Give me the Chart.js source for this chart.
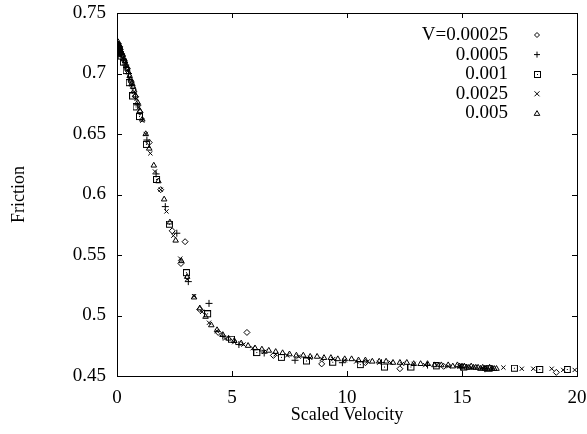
<!DOCTYPE html>
<html><head><meta charset="utf-8">
<script src="https://cdn.jsdelivr.net/npm/chart.js@4/dist/chart.umd.min.js"></script>
<style>html,body{margin:0;padding:0;background:#fff}canvas{display:block}</style>
</head><body>
<canvas id="c" width="587" height="434"></canvas>
<script>
// ---- data ----
const seriesLabels = ["V=0.00025", "0.0005", "0.001", "0.0025", "0.005"];
const xTickLabels = ["0", "5", "10", "15", "20"];
const yTickLabels = ["0.45", "0.5", "0.55", "0.6", "0.65", "0.7", "0.75"];
const xTitle = "Scaled Velocity";
const yTitle = "Friction";

const dX = [0,0.02,0.04,0.06,0.09,0.12,0.15,0.22,0.3,0.45,0.62,0.8,1.0,1.4,1.9,2.4,2.78,2.96,3.6,4.4,5.65,6.8,8.9,10.8,12.3,14.2,16.0,19.1];
const dY = [0.721,0.725,0.723,0.719,0.720,0.722,0.718,0.715,0.711,0.704,0.693,0.681,0.668,0.643,0.604,0.570,0.543,0.561,0.505,0.486,0.486,0.467,0.460,0.461,0.456,0.458,0.456,0.453];

const pX = [0,0.01,0.03,0.05,0.08,0.1,0.13,0.2,0.28,0.38,0.5,0.65,0.9,1.3,1.7,2.1,2.6,3.1,4.0,4.6,5.3,6.4,7.74,9.8,11.5,13.5,15.0,16.0];
const pY = [0.722,0.724,0.720,0.723,0.721,0.719,0.718,0.716,0.712,0.707,0.700,0.690,0.674,0.645,0.617,0.590,0.568,0.528,0.510,0.483,0.476,0.469,0.463,0.461,0.461,0.459,0.457,0.456];

const sX = [0,0.02,0.05,0.08,0.12,0.2,0.3,0.42,0.55,0.7,0.85,1.0,1.3,1.74,2.3,3.04,3.96,5.0,6.1,7.17,8.26,9.4,10.6,11.65,12.8,13.9,15.1,16.2,17.3,18.4,19.6];
const sY = [0.718,0.722,0.720,0.716,0.717,0.714,0.709,0.702,0.692,0.681,0.672,0.664,0.641,0.612,0.575,0.535,0.501,0.480,0.469,0.465,0.462,0.461,0.459,0.457,0.457,0.458,0.457,0.456,0.456,0.455,0.455];

const xX = [0,0.01,0.03,0.05,0.07,0.1,0.12,0.15,0.2,0.27,0.35,0.45,0.55,0.65,0.75,0.85,0.95,1.1,1.25,1.45,1.65,1.9,2.15,2.45,2.75,3.05,3.35,3.7,4.0,4.35,4.7,5.1,5.5,5.9,6.4,6.9,7.4,7.9,8.4,8.9,9.4,9.9,10.4,10.9,11.4,11.9,12.4,12.9,13.4,13.9,14.4,14.9,15.4,15.9,16.3,16.8,17.6,18.1,18.9,19.4,19.9];
const xY = [0.720,0.725,0.722,0.717,0.719,0.721,0.723,0.718,0.716,0.713,0.709,0.703,0.697,0.691,0.685,0.679,0.672,0.661,0.650,0.634,0.619,0.604,0.586,0.566,0.547,0.530,0.516,0.503,0.494,0.487,0.481,0.478,0.476,0.473,0.470,0.468,0.467,0.466,0.465,0.464,0.464,0.463,0.462,0.462,0.461,0.461,0.460,0.460,0.459,0.459,0.458,0.458,0.457,0.457,0.456,0.457,0.456,0.456,0.456,0.455,0.455];

const tX = [0,0.01,0.02,0.03,0.04,0.05,0.06,0.07,0.08,0.09,0.1,0.11,0.13,0.15,0.16,0.18,0.2,0.25,0.3,0.35,0.4,0.45,0.5,0.55,0.6,0.65,0.7,0.75,0.8,0.9,1.0,1.1,1.25,1.4,1.6,1.8,2.05,2.3,2.55,2.8,3.05,3.35,3.6,3.85,4.1,4.35,4.6,4.85,5.1,5.4,5.7,6.0,6.3,6.6,6.9,7.2,7.5,7.8,8.1,8.4,8.7,9.0,9.3,9.6,9.9,10.2,10.5,10.8,11.1,11.4,11.7,12.0,12.3,12.6,12.9,13.2,13.5,13.8,14.1,14.4,14.6,14.8,14.9,15.0,15.1,15.2,15.3,15.4,15.5,15.6,15.7,15.8,15.9,16.0,16.1,16.2,16.3,16.4,16.5];
const tY = [0.723,0.725,0.724,0.720,0.722,0.726,0.721,0.724,0.722,0.719,0.720,0.723,0.719,0.721,0.719,0.717,0.717,0.715,0.712,0.710,0.707,0.704,0.701,0.698,0.695,0.692,0.689,0.686,0.682,0.676,0.669,0.662,0.650,0.638,0.624,0.611,0.596,0.577,0.562,0.545,0.532,0.515,0.506,0.499,0.492,0.488,0.484,0.481,0.479,0.477,0.475,0.473,0.472,0.471,0.470,0.469,0.468,0.467,0.467,0.466,0.466,0.465,0.465,0.464,0.464,0.464,0.463,0.463,0.462,0.462,0.462,0.461,0.461,0.461,0.460,0.460,0.460,0.459,0.459,0.459,0.458,0.459,0.458,0.458,0.458,0.457,0.457,0.458,0.457,0.457,0.457,0.456,0.457,0.456,0.456,0.457,0.456,0.456,0.456];

// ---- build ----
function pts(xs, ys){ return xs.map((x,i)=>({x:x, y:ys[i]})); }

function boxDot(){
  const c = document.createElement('canvas'); c.width = 8; c.height = 8;
  const g = c.getContext('2d');
  g.strokeStyle = '#000'; g.lineWidth = 1;
  g.strokeRect(0.5,0.5,6,6);
  g.fillStyle = '#000'; g.fillRect(3,3,1,1);
  return c;
}
const boxImg = boxDot();

const styles = ['rectRot','cross',boxImg,'crossRot','triangle'];
const radii = [3,3.5,3.5,3,3.2];
const serX = [dX,pX,sX,xX,tX];
const serY = [dY,pY,sY,xY,tY];

const datasets = seriesLabels.map((lab,i)=>({
  label: lab,
  data: pts(serX[i], serY[i]),
  pointStyle: styles[i],
  pointRadius: radii[i],
  borderColor: '#000',
  backgroundColor: 'rgba(0,0,0,0)',
  borderWidth: 1,
  showLine: false
}));

const FONT = "'Liberation Serif', 'DejaVu Serif', serif";

function drawMarker(ctx, i, x, y){
  ctx.save();
  ctx.strokeStyle = '#000'; ctx.lineWidth = 1;
  const st = styles[i];
  if (st === 'rectRot'){
    const r=2.5; ctx.beginPath(); ctx.moveTo(x,y-r); ctx.lineTo(x+r,y); ctx.lineTo(x,y+r); ctx.lineTo(x-r,y); ctx.closePath(); ctx.stroke();
  } else if (st === 'cross'){
    const r=3; ctx.beginPath(); ctx.moveTo(x-r,y); ctx.lineTo(x+r,y); ctx.moveTo(x,y-r); ctx.lineTo(x,y+r); ctx.stroke();
  } else if (st === 'crossRot'){
    const r=2.5; ctx.beginPath(); ctx.moveTo(x-r,y-r); ctx.lineTo(x+r,y+r); ctx.moveTo(x+r,y-r); ctx.lineTo(x-r,y+r); ctx.stroke();
  } else if (st === 'triangle'){
    const r=2.8; ctx.beginPath(); ctx.moveTo(x,y-r); ctx.lineTo(x+r,y+r*0.7); ctx.lineTo(x-r,y+r*0.7); ctx.closePath(); ctx.stroke();
  } else {
    ctx.drawImage(boxImg, Math.round(x-3.5), Math.round(y-3.5));
  }
  ctx.restore();
}

const framePlugin = {
  id: 'frame',
  afterDraw(chart){
    const {ctx, chartArea:a, scales} = chart;
    ctx.save();
    ctx.strokeStyle = '#000'; ctx.lineWidth = 1;
    ctx.strokeRect(Math.round(a.left)+0.5, Math.round(a.top)+0.5, Math.round(a.right-a.left), Math.round(a.bottom-a.top));
    const L = 5;
    ctx.beginPath();
    scales.x.ticks.forEach(t=>{
      const px = Math.round(scales.x.getPixelForValue(t.value))+0.5;
      ctx.moveTo(px, a.bottom); ctx.lineTo(px, a.bottom-L);
      ctx.moveTo(px, a.top); ctx.lineTo(px, a.top+L);
    });
    scales.y.ticks.forEach(t=>{
      const py = Math.round(scales.y.getPixelForValue(t.value))+0.5;
      ctx.moveTo(a.left, py); ctx.lineTo(a.left+L, py);
      ctx.moveTo(a.right, py); ctx.lineTo(a.right-L, py);
    });
    ctx.stroke();
    // legend (top right, text right-aligned, marker on the right)
    ctx.font = "19px " + FONT;
    ctx.fillStyle = '#000';
    ctx.textAlign = 'right'; ctx.textBaseline = 'middle';
    const tx = a.right - 69, mx = a.right - 40;
    chart.data.datasets.forEach((ds,i)=>{
      const y = a.top + 22 + i*19.6;
      ctx.fillText(ds.label, tx, y);
      drawMarker(ctx, i, mx, y);
    });
    ctx.restore();
  }
};

function zeroPad(s){ s.paddingTop = 0; s.paddingBottom = 0; s.paddingLeft = 0; s.paddingRight = 0; }

new Chart(document.getElementById('c'), {
  type: 'scatter',
  data: { datasets },
  plugins: [framePlugin],
  options: {
    responsive: false,
    animation: false,
    devicePixelRatio: 1,
    layout: { padding: { top: 13, right: 10, left: 0, bottom: 0 } },
    plugins: { legend: { display: false }, tooltip: { enabled: false } },
    scales: {
      x: {
        type: 'linear', min: 0, max: 20,
        afterFit(s){ s.height = 58; zeroPad(s); },
        grid: { display: false, drawTicks: false },
        border: { display: false },
        ticks: { stepSize: 5, padding: 11, color: '#000', font: { family: FONT, size: 19 },
          maxRotation: 0,
          callback: (v, i) => xTickLabels[i] },
        title: { display: true, text: xTitle, color: '#000', font: { family: FONT, size: 18 }, padding: { top: 0, bottom: 8 } }
      },
      y: {
        type: 'linear', min: 0.45, max: 0.75,
        afterFit(s){ s.width = 117; zeroPad(s); },
        grid: { display: false, drawTicks: false },
        border: { display: false },
        ticks: { stepSize: 0.05, padding: 11, color: '#000', font: { family: FONT, size: 19 },
          callback: (v, i) => yTickLabels[i] },
        title: { display: true, text: yTitle, color: '#000', font: { family: FONT, size: 18 }, padding: { top: 8, bottom: 0 } }
      }
    }
  }
});
</script>
</body></html>
